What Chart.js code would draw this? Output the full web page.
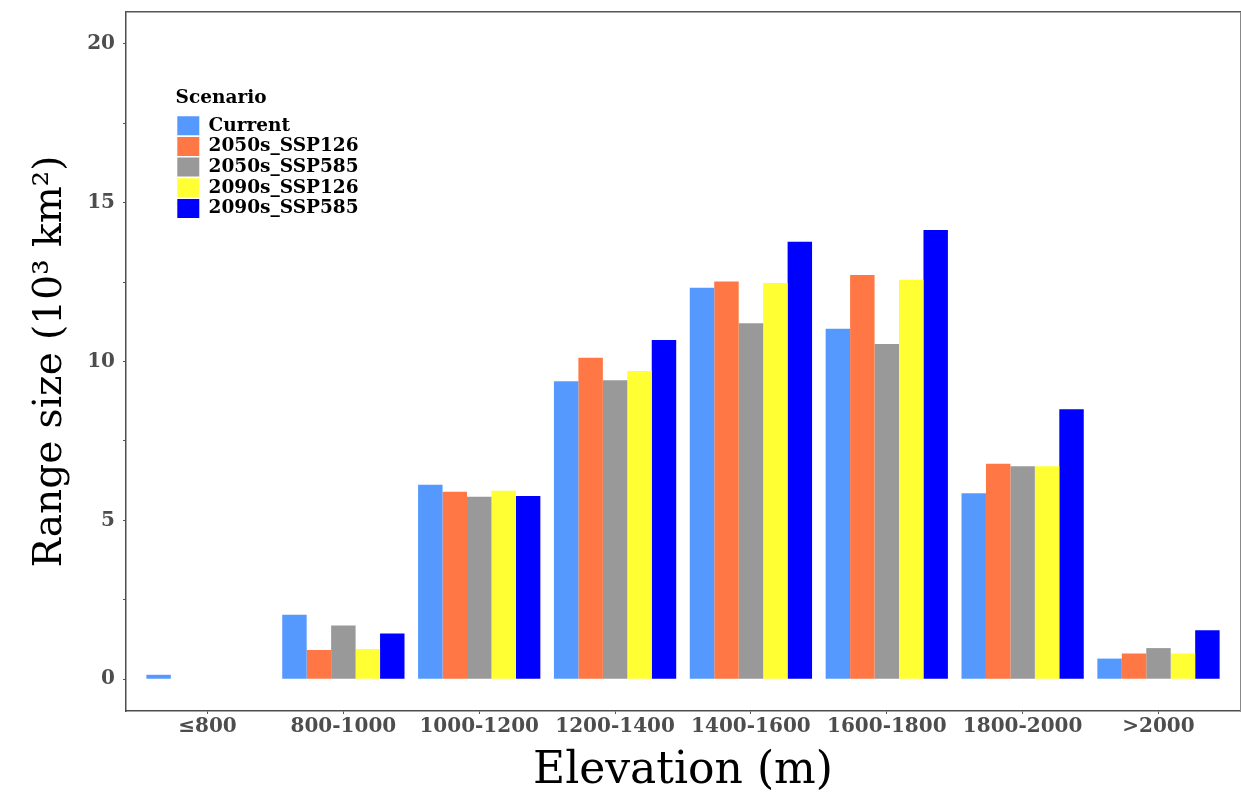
<!DOCTYPE html>
<html>
<head>
<meta charset="utf-8">
<title>Range size by elevation</title>
<script src="https://cdn.jsdelivr.net/npm/chart.js@4.4.1/dist/chart.umd.min.js"></script>
<style>
  body { margin: 0; background: #fff; }
  #wrap { width: 1241px; height: 798px; }
</style>
</head>
<body>
<div id="wrap"><canvas id="grafico-barras"></canvas></div>
<script>
// DADOS (10^3 km2)
const elevation = ['≤800', '800-1000', '1000-1200', '1200-1400', '1400-1600', '1600-1800', '1800-2000', '>2000'];
const scenarios = ['Current', '2050s_SSP126', '2050s_SSP585', '2090s_SSP126', '2090s_SSP585'];
const current     = [0.14, 2.03, 6.12, 9.38, 12.32, 11.03, 5.85, 0.65];
const ssp126_2050 = [0, 0.92, 5.90, 10.12, 12.52, 12.72, 6.78, 0.81];
const ssp585_2050 = [0, 1.69, 5.74, 9.41, 11.20, 10.55, 6.70, 0.98];
const ssp126_2090 = [0, 0.95, 5.93, 9.70, 12.47, 12.57, 6.70, 0.81];
const ssp585_2090 = [0, 1.44, 5.77, 10.68, 13.77, 14.14, 8.50, 1.54];
const yLabels = [0, 5, 10, 15, 20];

const colors = ['#5599ff', '#ff7744', '#999999', '#ffff33', '#0000ff'];
const series = [current, ssp126_2050, ssp585_2050, ssp126_2090, ssp585_2090];
const serif = "'DejaVu Serif', 'Liberation Serif', serif";

// legenda dentro do painel
const legendInPanel = {
  id: 'legendInPanel',
  afterLayout(chart) {
    const lg = chart.legend;
    lg.left = chart.chartArea.left + 49.6;
    lg.top = chart.chartArea.top + 73.7;
    lg.width = 260;
    lg.height = 200;
    lg.right = lg.left + lg.width;
    lg.bottom = lg.top + lg.height;
    lg.adjustHitBoxes();
  }
};

// eixo com tamanho fixo, sem folga extra para os rotulos
const fixSize = (w, h) => s => {
  if (w !== null) s.width = w;
  if (h !== null) s.height = h;
  s.paddingTop = 0;
  s.paddingBottom = 0;
  s.paddingLeft = 0;
  s.paddingRight = 0;
};

const ctx = document.getElementById('grafico-barras');

new Chart(ctx, {
  type: 'bar',
  data: {
    datasets: series.map((values, k) => ({
      label: scenarios[k],
      data: values.map((v, i) => ({ x: i, y: v })),
      backgroundColor: colors[k],
      borderWidth: 0
    }))
  },
  options: {
    responsive: true,
    maintainAspectRatio: false,
    animation: false,
    layout: { padding: { top: 12, right: 1, left: 0, bottom: 0 } },
    datasets: { bar: { categoryPercentage: 0.9, barPercentage: 1.0 } },
    scales: {
      x: {
        type: 'linear',
        min: -0.6,
        max: 7.6,
        offset: false,
        grid: { offset: false, drawOnChartArea: false, drawTicks: true, tickLength: 3, color: '#555' },
        border: { display: true, color: '#4d4d4d', width: 1.5 },
        ticks: {
          stepSize: 1, includeBounds: false, autoSkip: false, maxRotation: 0,
          padding: 1, color: '#4d4d4d',
          font: { family: serif, size: 20, weight: 'bold' },
          callback: v => elevation[v]
        },
        title: {
          display: true, text: 'Elevation (m)', color: '#000',
          font: { family: serif, size: 44 }, padding: { top: 0, bottom: 0 }
        },
        afterFit: fixSize(null, 87)
      },
      y: {
        min: -1,
        max: 21,
        grid: { drawOnChartArea: false, drawTicks: true, tickLength: 3, color: '#555' },
        border: { display: true, color: '#4d4d4d', width: 1.5 },
        ticks: {
          stepSize: 2.5, includeBounds: false, autoSkip: false,
          padding: 8, color: '#4d4d4d',
          font: { family: serif, size: 20, weight: 'bold' },
          callback: v => yLabels.includes(v) ? v : ''
        },
        title: {
          display: true, text: 'Range size (10³ km²)', color: '#000',
          font: { family: serif, size: 39 }, padding: { top: 27, bottom: 0 }
        },
        afterFit: fixSize(126, null)
      },
      x2: {
        type: 'linear', position: 'top',
        grid: { drawOnChartArea: false, drawTicks: false },
        border: { display: true, color: '#555', width: 1.5 },
        ticks: { display: false },
        afterFit: fixSize(null, 0)
      },
      y2: {
        type: 'linear', position: 'right',
        grid: { drawOnChartArea: false, drawTicks: false },
        border: { display: true, color: '#888', width: 1 },
        ticks: { display: false },
        afterFit: fixSize(0, null)
      }
    },
    plugins: {
      legend: {
        position: 'chartArea',
        align: 'start',
        title: {
          display: true, text: 'Scenario', color: '#000', position: 'start',
          font: { family: serif, size: 18.5, weight: 'bold', lineHeight: 1.2 },
          padding: { top: 3, bottom: 3.6 }
        },
        labels: {
          boxWidth: 22, boxHeight: 19, padding: 1.7, color: '#000',
          font: { family: serif, size: 18.5, weight: 'bold' }
        }
      },
      tooltip: { enabled: false }
    }
  },
  plugins: [legendInPanel]
});
</script>
</body>
</html>
